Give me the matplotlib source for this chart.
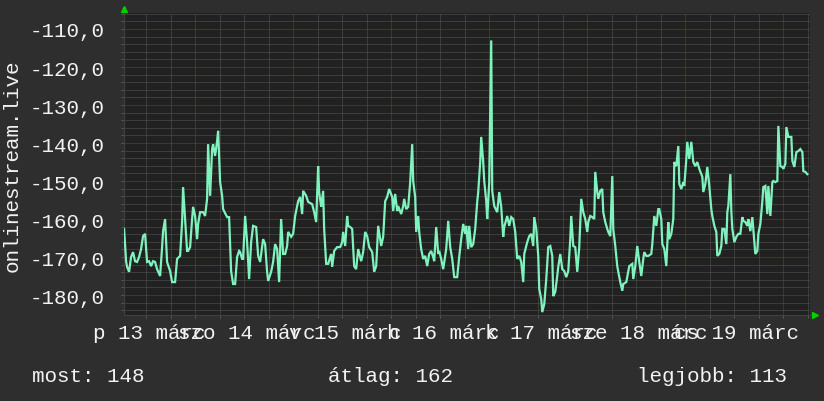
import matplotlib
matplotlib.use('Agg')
import matplotlib.pyplot as plt
from matplotlib.ticker import MultipleLocator, FuncFormatter

## Data: hours since 13 March 00:00 and the signal value
hours = [6.62, 7.11, 7.35, 7.84, 8.33, 8.82, 9.31, 9.80, 10.29, 10.78, 11.27, 11.76, 12.25, 12.74,
         13.23, 13.72, 14.21, 14.70, 15.44, 15.93, 16.17, 16.66, 17.15, 17.89, 18.38, 19.11, 19.60,
         20.34, 20.83, 21.07, 21.56, 22.05, 22.30, 22.79, 23.28, 23.52, 24.01, 24.50, 24.75, 25.24,
         25.97, 26.46, 26.95, 27.20, 27.69, 28.18, 28.42, 28.91, 29.40, 29.65, 30.14, 30.63, 30.87,
         31.85, 32.34, 32.83, 33.32, 33.81, 34.30, 34.79, 35.04, 35.53, 35.77, 36.26, 36.75, 37.24,
         37.73, 38.22, 38.96, 39.45, 39.94, 40.67, 41.16, 41.65, 41.90, 42.63, 43.12, 43.61, 44.10,
         44.59, 45.08, 45.57, 46.06, 46.55, 46.80, 47.53, 48.02, 48.51, 49.25, 49.74, 50.23, 50.47,
         51.21, 51.70, 52.68, 53.17, 53.66, 54.15, 54.39, 54.88, 55.37, 55.62, 56.11, 56.60, 57.33,
         57.58, 58.07, 58.80, 59.54, 60.03, 60.27, 60.76, 61.25, 61.50, 61.99, 62.48, 62.97, 63.46,
         63.95, 64.68, 65.17, 65.66, 66.15, 66.64, 67.38, 67.87, 68.36, 68.85, 69.58, 70.07, 70.56,
         71.05, 71.54, 72.28, 72.52, 73.01, 73.50, 73.75, 74.48, 74.97, 75.22, 75.71, 76.20, 76.69,
         77.18, 77.42, 77.91, 78.16, 78.65, 78.89, 79.38, 79.87, 80.36, 80.85, 81.34, 81.83, 82.32,
         82.57, 83.06, 83.55, 83.79, 84.28, 84.77, 85.51, 86.00, 86.49, 86.98, 87.47, 88.20, 88.69,
         89.18, 89.67, 90.16, 90.41, 90.90, 91.14, 91.63, 92.12, 92.61, 93.10, 93.35, 93.84, 94.08,
         94.57, 94.82, 95.31, 95.55, 96.04, 96.53, 96.78, 97.27, 98.00, 98.49, 98.98, 99.47, 99.72,
         100.45, 100.94, 101.43, 101.92, 102.41, 102.90, 103.39, 103.88, 104.37, 104.62, 105.35,
         105.84, 106.33, 106.82, 107.07, 107.56, 108.05, 108.29, 108.78, 109.03, 109.52, 110.01,
         110.50, 110.99, 111.48, 111.72, 112.21, 112.70, 112.95, 113.44, 113.93, 114.42, 114.91,
         115.40, 115.89, 116.13, 116.62, 117.11, 117.60, 118.09, 118.58, 119.07, 119.56, 120.05,
         120.30, 120.79, 121.28, 121.77, 122.01, 122.50, 122.75, 123.24, 123.73, 123.97, 124.46,
         124.95, 125.20, 125.69, 126.18, 126.42, 126.91, 127.40, 127.65, 128.14, 128.63, 128.87,
         129.61, 130.10, 130.34, 131.08, 131.32, 131.81, 132.30, 132.79, 133.28, 133.77, 134.02,
         134.51, 135.00, 135.73, 135.98, 136.47, 136.96, 137.45, 137.69, 138.18, 138.43, 138.92,
         139.41, 139.90, 140.14, 140.63, 141.12, 141.37, 141.86, 142.35, 142.59, 143.08, 143.57,
         143.82, 144.31, 144.55, 145.04, 145.53, 146.02, 146.51, 147.00, 147.49, 148.23, 148.47,
         148.96, 149.45, 149.94, 150.43, 150.68, 151.17, 151.66, 151.90, 152.39, 152.88, 153.13,
         153.62, 154.11, 154.35, 154.60, 155.09, 155.33, 155.58, 156.07, 156.56, 157.05, 157.54,
         158.03, 158.27, 158.76, 159.25, 159.50, 159.99, 160.48, 160.72, 161.21, 161.70, 161.95,
         162.44, 162.93, 163.17, 163.66, 164.15, 164.40, 164.89, 165.38, 165.62, 166.11, 166.60,
         166.85, 167.34, 167.83, 168.07, 168.56, 168.81, 169.30, 170.03, 170.28, 170.77, 171.26,
         171.75, 172.24, 172.73, 172.97, 173.46, 173.95]

values = [-162.6, -171.1, -172.6, -173.9, -170.0, -168.7, -171.1, -171.3, -170.0, -167.9, -164.5,
          -163.9, -171.3, -171.1, -172.4, -171.1, -171.3, -173.2, -175.0, -167.4, -163.2, -160.0,
          -171.3, -173.7, -176.6, -176.6, -170.5, -169.7, -160.8, -151.6, -160.0, -168.4, -168.4,
          -167.4, -160.0, -156.8, -159.2, -165.3, -161.3, -158.2, -158.2, -159.2, -154.7, -140.3,
          -153.9, -141.6, -140.3, -143.4, -139.5, -136.8, -150.3, -153.9, -157.4, -159.5, -159.5,
          -173.7, -177.1, -177.1, -170.0, -168.4, -168.7, -170.5, -170.5, -159.2, -166.1, -175.8,
          -166.1, -161.8, -162.1, -169.7, -171.3, -165.3, -166.6, -173.9, -176.3, -173.9, -171.3,
          -166.6, -167.9, -176.6, -160.0, -169.2, -169.2, -167.1, -163.4, -164.7, -163.9, -159.2,
          -155.3, -154.2, -158.7, -152.6, -153.9, -155.5, -156.1, -158.2, -160.8, -146.1, -152.9,
          -156.8, -152.6, -162.6, -171.8, -171.8, -169.2, -172.6, -168.4, -167.4, -167.4, -166.1,
          -163.4, -167.1, -159.2, -161.8, -162.1, -162.6, -172.4, -173.2, -167.9, -171.1, -168.7,
          -163.4, -164.5, -167.4, -168.7, -173.9, -172.4, -161.8, -167.1, -164.7, -155.3, -154.2,
          -152.1, -154.2, -157.9, -153.4, -157.9, -156.6, -158.7, -156.6, -154.7, -157.4, -156.8,
          -150.3, -140.3, -150.0, -154.2, -163.4, -159.2, -163.4, -167.9, -170.5, -169.7, -172.4,
          -169.2, -168.4, -170.0, -171.1, -162.1, -169.2, -168.4, -170.5, -173.2, -167.9, -160.5,
          -167.4, -170.5, -175.3, -175.3, -170.0, -165.3, -161.3, -163.9, -161.8, -167.9, -161.8,
          -167.4, -166.6, -162.6, -155.5, -152.9, -145.0, -138.4, -145.0, -150.0, -155.3, -160.0,
          -150.3, -113.0, -152.6, -156.6, -158.2, -152.9, -156.8, -164.7, -162.1, -159.2, -161.8,
          -159.5, -160.0, -163.4, -170.5, -169.7, -171.3, -176.6, -169.2, -166.1, -164.5, -163.9,
          -167.1, -159.5, -162.6, -169.7, -178.4, -181.1, -184.5, -182.4, -175.8, -167.4, -167.1,
          -169.7, -180.3, -179.2, -175.0, -172.6, -169.2, -173.2, -173.7, -175.3, -173.7, -165.3,
          -159.2, -167.1, -167.4, -173.9, -167.4, -154.7, -158.2, -160.0, -163.4, -160.8, -159.2,
          -159.5, -160.0, -147.6, -152.9, -154.7, -152.6, -152.1, -158.2, -160.8, -162.6, -163.4,
          -164.5, -148.7, -162.6, -167.1, -172.4, -173.9, -176.6, -178.9, -177.1, -176.6, -173.7,
          -172.4, -171.8, -175.8, -172.4, -167.1, -171.3, -175.0, -170.5, -168.7, -169.7, -169.7,
          -169.2, -166.6, -159.2, -161.8, -157.4, -157.4, -160.0, -166.6, -167.9, -172.4, -160.8,
          -165.3, -163.9, -160.0, -145.0, -146.1, -140.8, -150.8, -152.1, -150.3, -151.3, -144.2,
          -139.7, -144.2, -139.7, -145.0, -146.1, -145.0, -146.8, -148.9, -152.9, -150.8, -146.3,
          -151.3, -157.4, -159.2, -161.8, -163.4, -169.7, -169.2, -167.1, -162.6, -162.6, -166.6,
          -158.2, -156.6, -148.2, -157.9, -162.6, -166.1, -164.7, -163.9, -163.9, -159.5, -160.5,
          -160.8, -161.8, -160.0, -163.2, -159.5, -162.6, -169.2, -168.4, -163.9, -161.3, -155.3,
          -151.6, -151.3, -158.7, -151.3, -159.2, -150.3, -150.0, -150.3, -150.0, -135.5, -146.1,
          -146.3, -146.8, -145.5, -135.8, -138.4, -138.4, -144.7, -146.3, -142.4, -142.1, -141.6,
          -142.4, -147.4, -147.6, -148.2]

day_labels = ['p 13 márc', 'szo 14 márc', 'v 15 márc', 'h 16 márc',
              'k 17 márc', 'sze 18 márc', 'cs 19 márc']
day_label_hours = [12.7, 36.7, 60.7, 84.7, 108.7, 132.7, 156.7]
y_ticks = [-180, -170, -160, -150, -140, -130, -120, -110]
y_title = 'onlinestream.live'
legend_texts = ['most: 148', 'átlag: 162', 'legjobb: 113']

# colours
back_col = '#2e2e2e'
canvas_col = '#212121'
minor_col = '#585858'
major_col = '#7e3c3c'
line_col = '#7ff2bd'
text_col = '#f2f2f2'
arrow_col = '#00d000'
font = 'Liberation Mono'

W, H = 824, 402
fig = plt.figure(figsize=(W / 100, H / 100), dpi=100, facecolor=back_col)
ax = fig.add_axes([124 / W, 86 / H, 686 / W, 302 / H], facecolor=canvas_col)

ax.plot(hours, values, color=line_col, lw=1.6, solid_joinstyle='miter', zorder=3)

ax.set_xlim(6.6, 174.6)
ax.set_ylim(-185.26, -105.79)

# grid: 6h / 2 units minor (grey), 1 day / 10 units major (red)
ax.xaxis.set_major_locator(MultipleLocator(24))
ax.xaxis.set_minor_locator(MultipleLocator(6))
ax.yaxis.set_major_locator(MultipleLocator(10))
ax.yaxis.set_minor_locator(MultipleLocator(2))
ax.set_axisbelow(True)
ax.grid(which='minor', color=minor_col, lw=0.72, ls=(0, (1, 1)))
ax.grid(which='major', color=major_col, lw=0.72, ls=(0, (1, 1)))

ax.set_yticks(y_ticks)
ax.yaxis.set_major_formatter(FuncFormatter(lambda v, p: ('%.1f' % v).replace('.', ',')))
ax.set_xticklabels([])
ax.tick_params(axis='both', which='both', length=2, color=minor_col, width=0.7)
ax.tick_params(axis='y', which='major', pad=12, labelsize=15, labelcolor=text_col)
for lab in ax.get_yticklabels():
    lab.set_family(font)

for s in ax.spines.values():
    s.set_visible(False)
ax.spines['left'].set_visible(True)
ax.spines['bottom'].set_visible(True)
ax.spines['left'].set_color('#404040')
ax.spines['bottom'].set_color('#404040')

# overlapping day labels, centred around noon
for h, lab in zip(day_label_hours, day_labels):
    ax.text(h, -0.076, lab, transform=ax.get_xaxis_transform(), ha='center', va='baseline',
            fontsize=15, family=font, color=text_col, clip_on=False)

# small green arrows at the axis ends
ax.plot([0], [1.0135], marker='^', ms=5, color=arrow_col, transform=ax.transAxes, clip_on=False)
ax.plot([1.0073], [0], marker='>', ms=5, color=arrow_col, transform=ax.transAxes, clip_on=False)

fig.text(12 / W, 1 - 166 / H, y_title, rotation=90, ha='center', va='center',
         fontsize=15, family=font, color=text_col)

fig.text(32 / W, 1 - 382 / H, legend_texts[0], ha='left', va='baseline', fontsize=15, family=font, color=text_col)
fig.text(328 / W, 1 - 382 / H, legend_texts[1], ha='left', va='baseline', fontsize=15, family=font, color=text_col)
fig.text(637 / W, 1 - 382 / H, legend_texts[2], ha='left', va='baseline', fontsize=15, family=font, color=text_col)

fig.savefig('out.png', dpi=100, facecolor=back_col)
